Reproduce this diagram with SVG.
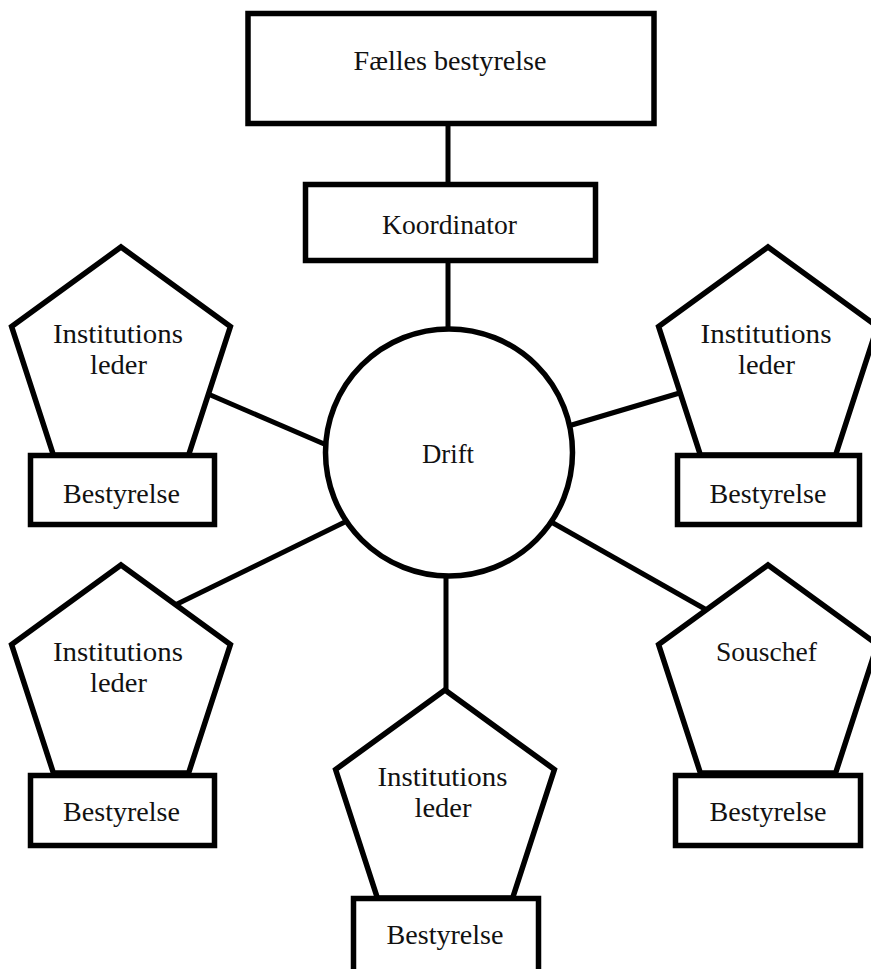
<svg xmlns="http://www.w3.org/2000/svg" width="871" height="969" viewBox="0 0 871 969">
<style>
.shape{fill:#fff;stroke:#000;stroke-width:5.5;stroke-linejoin:miter}
.conn{stroke:#000;stroke-width:5;fill:none}
text{font-family:"Liberation Serif","DejaVu Serif",serif;font-size:27.5px;fill:#111;text-anchor:middle}
</style>
<rect width="871" height="969" fill="#fff"/>
<g id="connectors">
<line class="conn" x1="448" y1="120" x2="448" y2="186"/>
<line class="conn" x1="448" y1="260" x2="448" y2="335"/>
<line class="conn" x1="200" y1="390.5" x2="330" y2="446.5"/>
<line class="conn" x1="565" y1="427" x2="688" y2="390.5"/>
<line class="conn" x1="350" y1="519.5" x2="170" y2="607.5"/>
<line class="conn" x1="446" y1="570" x2="446" y2="700"/>
<line class="conn" x1="546" y1="519" x2="712" y2="613"/>
</g>
<g id="faelles">
<rect class="shape" x="248" y="13.5" width="406" height="110"/>
<text x="450" y="69.5" textLength="193" lengthAdjust="spacingAndGlyphs">Fælles bestyrelse</text>
</g>
<g id="koordinator">
<rect class="shape" x="305.5" y="184.5" width="290" height="76"/>
<text x="449.5" y="233.5" textLength="135" lengthAdjust="spacingAndGlyphs">Koordinator</text>
</g>
<g id="drift">
<circle class="shape" cx="449" cy="452.5" r="123.5"/>
<text x="448" y="462.5" textLength="52" lengthAdjust="spacingAndGlyphs">Drift</text>
</g>
<g id="leder1">
<polygon class="shape" points="121,247 230.4,326.5 188.6,455 53.4,455 11.6,326.5"/>
<text x="118" y="342.5" textLength="130" lengthAdjust="spacingAndGlyphs">Institutions</text>
<text x="118.5" y="373.5" textLength="57" lengthAdjust="spacingAndGlyphs">leder</text>
</g>
<g id="bestyrelse1">
<rect class="shape" x="30.5" y="455.5" width="184" height="69"/>
<text x="121.5" y="502.5" textLength="117" lengthAdjust="spacingAndGlyphs">Bestyrelse</text>
</g>
<g id="leder2">
<polygon class="shape" points="768,247 877.4,326.5 835.6,455 700.4,455 658.6,326.5"/>
<text x="766" y="342.5" textLength="131" lengthAdjust="spacingAndGlyphs">Institutions</text>
<text x="766.5" y="373.5" textLength="57" lengthAdjust="spacingAndGlyphs">leder</text>
</g>
<g id="bestyrelse2">
<rect class="shape" x="677.5" y="455.5" width="182" height="69"/>
<text x="768" y="502.5" textLength="117" lengthAdjust="spacingAndGlyphs">Bestyrelse</text>
</g>
<g id="leder3">
<polygon class="shape" points="121,565 230.4,644.5 188.6,773 53.4,773 11.6,644.5"/>
<text x="118" y="660.5" textLength="130" lengthAdjust="spacingAndGlyphs">Institutions</text>
<text x="118.5" y="692" textLength="57" lengthAdjust="spacingAndGlyphs">leder</text>
</g>
<g id="bestyrelse3">
<rect class="shape" x="30.5" y="775.5" width="184" height="70"/>
<text x="121.5" y="820.5" textLength="117" lengthAdjust="spacingAndGlyphs">Bestyrelse</text>
</g>
<g id="leder4">
<polygon class="shape" points="445,690 554.4,769.5 512.6,898 377.4,898 335.6,769.5"/>
<text x="442.5" y="786" textLength="130" lengthAdjust="spacingAndGlyphs">Institutions</text>
<text x="443" y="817" textLength="57" lengthAdjust="spacingAndGlyphs">leder</text>
</g>
<g id="bestyrelse4">
<rect class="shape" x="353.5" y="898.5" width="185" height="80"/>
<text x="445" y="943.5" textLength="117" lengthAdjust="spacingAndGlyphs">Bestyrelse</text>
</g>
<g id="souschef">
<polygon class="shape" points="768,565 877.4,644.5 835.6,773 700.4,773 658.6,644.5"/>
<text x="766.5" y="660.5" textLength="101" lengthAdjust="spacingAndGlyphs">Souschef</text>
</g>
<g id="bestyrelse5">
<rect class="shape" x="675.5" y="775.5" width="185" height="70"/>
<text x="768" y="820.5" textLength="117" lengthAdjust="spacingAndGlyphs">Bestyrelse</text>
</g>
</svg>
